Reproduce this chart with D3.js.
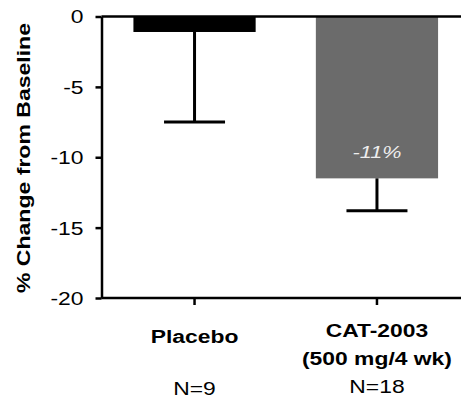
<!DOCTYPE html>
<html>
<head>
<meta charset="utf-8">
<script src="https://cdn.jsdelivr.net/npm/d3@7"></script>
<style>
  body { margin: 0; background: #fff; }
  svg { display: block; font-family: "Liberation Sans", Arial, Helvetica, sans-serif; }
</style>
</head>
<body>
<svg id="chart" width="461" height="402"></svg>
<script>
// chart data
const categories = ["Placebo", "CAT-2003"];
const subLabels = ["", "(500 mg/4 wk)"];
const nLabels = ["N=9", "N=18"];
const means = [-1.1, -11.5];
const errorEnds = [-7.5, -13.8];
const barLabels = ["", "-11%"];
const barColors = ["#000000", "#6b6b6b"];
const yTicks = [0, -5, -10, -15, -20];

const W = 461, H = 402;
const stretchX = 1.27; // the picture's text is wider than normal

const svg = d3.select("#chart");

const x = d3.scaleBand()
    .domain(categories)
    .range([101.5, 470])
    .paddingInner(0.33)
    .paddingOuter(0.175);

const y = d3.scaleLinear()
    .domain([0, -20])
    .range([16.5, 298]);

// widen horizontal text to match the reference
function widen(sel, k) {
    sel.each(function () {
        const len = this.getComputedTextLength();
        if (!len) return;
        d3.select(this)
            .attr("textLength", len * k)
            .attr("lengthAdjust", "spacingAndGlyphs");
    });
}

// bars
svg.selectAll(".bar")
    .data(categories)
    .enter().append("rect")
    .attr("class", "bar")
    .attr("x", d => x(d))
    .attr("y", y(0))
    .attr("width", x.bandwidth())
    .attr("height", (d, i) => y(means[i]) - y(0))
    .attr("fill", (d, i) => barColors[i]);

// error bars (downward only)
const capW = 61;
const err = svg.selectAll(".err")
    .data(categories)
    .enter().append("g")
    .attr("class", "err")
    .attr("stroke", "#000")
    .attr("stroke-width", 3);

err.append("line")
    .attr("x1", d => x(d) + x.bandwidth() / 2)
    .attr("x2", d => x(d) + x.bandwidth() / 2)
    .attr("y1", (d, i) => y(means[i]))
    .attr("y2", (d, i) => y(errorEnds[i]));

err.append("line")
    .attr("x1", d => x(d) + x.bandwidth() / 2 - capW / 2)
    .attr("x2", d => x(d) + x.bandwidth() / 2 + capW / 2)
    .attr("y1", (d, i) => y(errorEnds[i]))
    .attr("y2", (d, i) => y(errorEnds[i]));

// value label inside the bar
svg.selectAll(".barlabel")
    .data(categories)
    .enter().append("text")
    .attr("class", "barlabel")
    .attr("x", d => x(d) + x.bandwidth() / 2)
    .attr("y", y(-10) + 0.5)
    .attr("text-anchor", "middle")
    .attr("font-size", 17)
    .attr("font-style", "italic")
    .attr("fill", "#eeeeee")
    .text((d, i) => barLabels[i])
    .call(widen, stretchX);

// zero line along the top
svg.append("line")
    .attr("x1", 101.5)
    .attr("x2", W)
    .attr("y1", y(0))
    .attr("y2", y(0))
    .attr("stroke", "#000")
    .attr("stroke-width", 2.5);

// y axis
const yAxis = svg.append("g")
    .attr("transform", "translate(101.5,0)")
    .call(d3.axisLeft(y).tickValues(yTicks).tickFormat(d => String(d))
        .tickSize(6).tickSizeOuter(0).tickPadding(12));

yAxis.selectAll("path, line").attr("stroke", "#000").attr("stroke-width", 2.5);
yAxis.selectAll("text")
    .attr("font-size", 18)
    .attr("fill", "#000")
    .attr("dy", "0.36em")
    .call(widen, stretchX);

// x axis at the bottom
const xAxis = svg.append("g")
    .attr("transform", `translate(0,${y(-20)})`)
    .call(d3.axisBottom(x).tickSize(7).tickSizeOuter(0).tickFormat(""));

xAxis.select(".domain").attr("d", `M101.5,0H${W}`);
xAxis.selectAll("path, line").attr("stroke", "#000").attr("stroke-width", 2.5);

// category labels
const cat = svg.selectAll(".cat")
    .data(categories)
    .enter().append("g")
    .attr("class", "cat")
    .attr("transform", d => `translate(${x(d) + x.bandwidth() / 2},0)`)
    .attr("text-anchor", "middle")
    .attr("font-size", 18)
    .attr("fill", "#000");

cat.append("text")
    .attr("y", (d, i) => subLabels[i] ? 336.5 : 342.5)
    .attr("font-weight", "bold")
    .text(d => d)
    .call(widen, stretchX);

cat.append("text")
    .attr("y", 365)
    .attr("font-weight", "bold")
    .text((d, i) => subLabels[i])
    .call(widen, stretchX);

cat.append("text")
    .attr("y", (d, i) => subLabels[i] ? 392.5 : 395)
    .text((d, i) => nLabels[i])
    .call(widen, stretchX);

// y axis title
svg.append("text")
    .attr("transform", "translate(29.5,158) rotate(-90)")
    .attr("text-anchor", "middle")
    .attr("font-size", 19)
    .attr("font-weight", "bold")
    .attr("textLength", 270)
    .attr("lengthAdjust", "spacingAndGlyphs")
    .text("% Change from Baseline");
</script>
</body>
</html>
